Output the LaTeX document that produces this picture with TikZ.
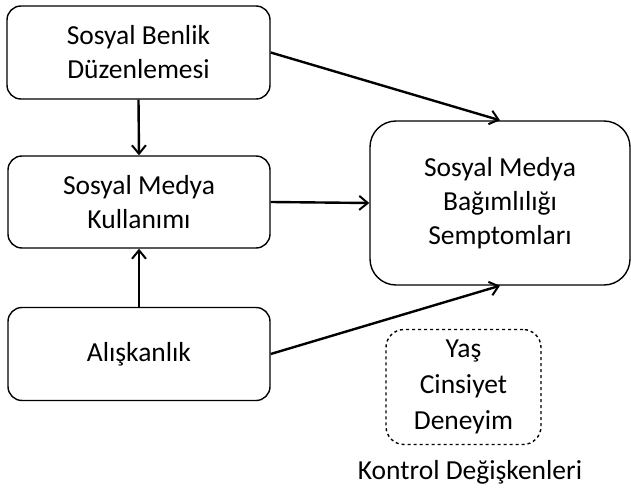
\documentclass[tikz,border=0pt]{standalone}
\usepackage{fontspec}
\setmainfont{Carlito}
\usetikzlibrary{arrows.meta}
\begin{document}
\begin{tikzpicture}[x=1pt,y=-1pt,
  box/.style={draw, line width=1.4pt, rounded corners=14pt, align=center,
    font=\fontsize{27.5}{34}\selectfont, inner sep=0pt},
  ctrl/.style={draw, dashed, line width=1.4pt, rounded corners=18pt, align=center,
    font=\fontsize{27.5}{36}\selectfont, inner sep=0pt},
  arr/.style={line width=2.4pt, -{Straight Barb[length=8.5pt,width=14pt,line width=2pt]}}]
\path[use as bounding box, fill=white] (0,0) rectangle (631,489);
\node[box, minimum width=263pt, minimum height=93pt] (b1) at (138.5,52.5) {Sosyal Benlik\\Düzenlemesi};
\node[box, minimum width=262pt, minimum height=92pt] (b2) at (139,202) {Sosyal Medya\\Kullanımı};
\node[box, minimum width=262pt, minimum height=93pt] (b3) at (139,354) {Alışkanlık};
\node[box, rounded corners=26pt, minimum width=260pt, minimum height=164pt] (c) at (500,203) {Sosyal Medya\\Bağımlılığı\\Semptomları};
\node[ctrl, minimum width=155pt, minimum height=115pt] (k) at (463.5,387) {Yaş\\Cinsiyet\\Deneyim};
\node[font=\fontsize{27.5}{34}\selectfont, inner sep=0pt] (kl) at (470,472) {Kontrol Değişkenleri};
\draw[arr] (b1.south) -- (b2.north);
\draw[arr] (b3.north) -- (b2.south);
\draw[arr] (b2.east) -- (c.west);
\draw[arr] (b1.east) -- (c.north);
\draw[arr] (b3.east) -- (c.south);
\end{tikzpicture}
\end{document}
